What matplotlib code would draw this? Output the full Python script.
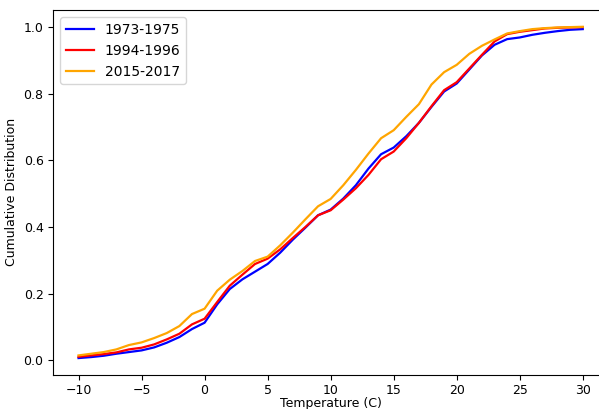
import numpy as np
import matplotlib
matplotlib.use('Agg')
import matplotlib.pyplot as plt

temps = np.arange(-10, 31)

cdf_1973 = [0.007, 0.010, 0.014, 0.020, 0.025, 0.030, 0.039, 0.053, 0.070, 0.094,
            0.113, 0.168, 0.214, 0.243, 0.266, 0.289, 0.323, 0.362, 0.398, 0.435,
            0.452, 0.485, 0.525, 0.575, 0.618, 0.638, 0.672, 0.712, 0.760, 0.806,
            0.830, 0.872, 0.914, 0.946, 0.963, 0.968, 0.976, 0.982, 0.987, 0.991,
            0.993]
cdf_1994 = [0.011, 0.015, 0.019, 0.024, 0.033, 0.038, 0.048, 0.063, 0.080, 0.108,
            0.125, 0.175, 0.224, 0.257, 0.289, 0.305, 0.333, 0.367, 0.400, 0.435,
            0.450, 0.482, 0.516, 0.556, 0.603, 0.626, 0.666, 0.712, 0.762, 0.810,
            0.834, 0.875, 0.916, 0.956, 0.978, 0.985, 0.990, 0.995, 0.997, 0.998,
            0.999]
cdf_2015 = [0.015, 0.020, 0.025, 0.033, 0.046, 0.054, 0.067, 0.082, 0.103, 0.139,
            0.155, 0.209, 0.242, 0.268, 0.298, 0.311, 0.345, 0.383, 0.423, 0.462,
            0.484, 0.525, 0.571, 0.620, 0.666, 0.690, 0.730, 0.768, 0.827, 0.864,
            0.886, 0.919, 0.943, 0.962, 0.980, 0.987, 0.993, 0.996, 0.998, 0.999,
            1.000]

labels = ['1973-1975', '1994-1996', '2015-2017']
colors = ['blue', 'red', 'orange']

fig = plt.figure(figsize=(5.99, 4.09), dpi=100)
ax = fig.add_axes([0.089, 0.084, 0.926, 0.891])

for y, lab, c in zip([cdf_1973, cdf_1994, cdf_2015], labels, colors):
    ax.plot(temps, y, color=c, lw=1.6, label=lab)

# the original figure is cropped just before the right edge of the axes
ax.spines['right'].set_visible(False)

ax.set_xticks([-10, -5, 0, 5, 10, 15, 20, 25, 30])
ax.set_yticks([0.0, 0.2, 0.4, 0.6, 0.8, 1.0])
ax.tick_params(labelsize=9)
ax.set_xlabel('Temperature (C)', fontsize=9, labelpad=0)
ax.set_ylabel('Cumulative Distribution', fontsize=9)
ax.legend(loc='upper left', fontsize=10)

fig.savefig('out.png', dpi=100)
